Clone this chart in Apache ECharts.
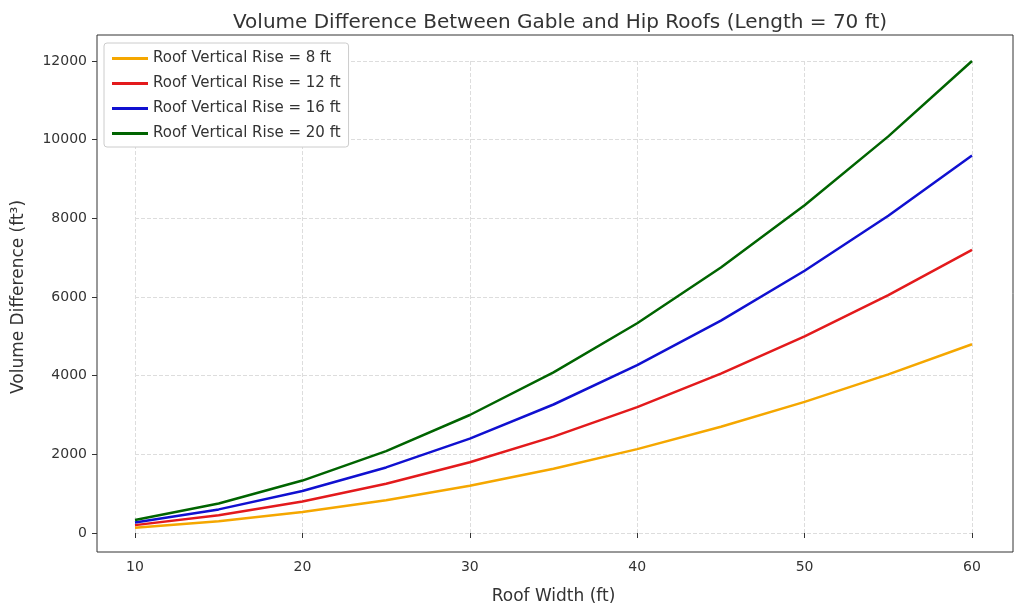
<!DOCTYPE html>
<html>
<head>
<meta charset="utf-8">
<script src="https://cdn.jsdelivr.net/npm/echarts@6/dist/echarts.min.js"></script>
<style>html,body{margin:0;padding:0;background:#fff}#chart{width:1024px;height:610px}</style>
</head>
<body>
<div id="chart"></div>
<script>
var widths = [10, 15, 20, 25, 30, 35, 40, 45, 50, 55, 60];
var rise8 = [133, 300, 533, 833, 1200, 1633, 2133, 2700, 3333, 4033, 4800];
var rise12 = [200, 450, 800, 1250, 1800, 2450, 3200, 4050, 5000, 6050, 7200];
var rise16 = [267, 600, 1067, 1667, 2400, 3267, 4267, 5400, 6667, 8067, 9600];
var rise20 = [333, 750, 1333, 2083, 3000, 4083, 5333, 6750, 8333, 10083, 12000];
var seriesNames = ['Roof Vertical Rise = 8 ft', 'Roof Vertical Rise = 12 ft', 'Roof Vertical Rise = 16 ft', 'Roof Vertical Rise = 20 ft'];
var colors = ['#f5a700', '#e31a1c', '#1010d0', '#006400'];

var myChart = echarts.init(document.getElementById('chart'));
var font = 'DejaVu Sans';

function pairs(vals) {
    return widths.map(function (w, i) { return [w, vals[i]]; });
}

var allData = [rise8, rise12, rise16, rise20];
var series = allData.map(function (d, i) {
    return {
        name: seriesNames[i],
        type: 'line',
        data: pairs(d),
        showSymbol: false,
        lineStyle: { color: colors[i], width: 2.5 },
        itemStyle: { color: colors[i] }
    };
});

var option = {
    animation: false,
    textStyle: { fontFamily: font },
    title: {
        text: 'Volume Difference Between Gable and Hip Roofs (Length = 70 ft)',
        left: 555, top: 8, textAlign: 'center',
        textStyle: { fontFamily: font, fontSize: 20, fontWeight: 'normal', color: '#333' }
    },
    legend: {
        orient: 'vertical', left: 104, top: 43,
        itemWidth: 36, itemHeight: 3, itemGap: 10,
        padding: [8, 8, 6, 8],
        borderColor: '#ccc', borderWidth: 1, borderRadius: 3,
        backgroundColor: '#fff',
        icon: 'rect',
        textStyle: { fontFamily: font, fontSize: 15, color: '#333' }
    },
    grid: { left: 135, right: 52, top: 61, bottom: 75 },
    xAxis: {
        type: 'value', min: 10, max: 60, interval: 10, offset: 17,
        name: 'Roof Width (ft)', nameLocation: 'middle', nameGap: 38,
        nameTextStyle: { fontFamily: font, fontSize: 17, color: '#333' },
        axisLine: { show: false },
        axisTick: { show: true, lineStyle: { color: '#333' }, length: 5 },
        axisLabel: { fontSize: 14, color: '#333', margin: 10 },
        splitLine: { lineStyle: { type: 'dashed', color: '#ddd' } }
    },
    yAxis: {
        type: 'value', min: 0, max: 12000, interval: 2000, offset: 38,
        name: 'Volume Difference (ft³)', nameLocation: 'middle', nameGap: 70,
        nameTextStyle: { fontFamily: font, fontSize: 17, color: '#333' },
        axisLine: { show: false },
        axisTick: { show: true, lineStyle: { color: '#333' }, length: 5 },
        axisLabel: { fontSize: 14, color: '#333', margin: 10, formatter: function (v) { return String(v); } },
        splitLine: { lineStyle: { type: 'dashed', color: '#ddd' } }
    },
    graphic: [{
        type: 'rect', z: -1, silent: true,
        shape: { x: 97, y: 35, width: 916, height: 517 },
        style: { fill: 'none', stroke: '#333', lineWidth: 1 }
    }],
    series: series
};
myChart.setOption(option);
</script>
</body>
</html>
